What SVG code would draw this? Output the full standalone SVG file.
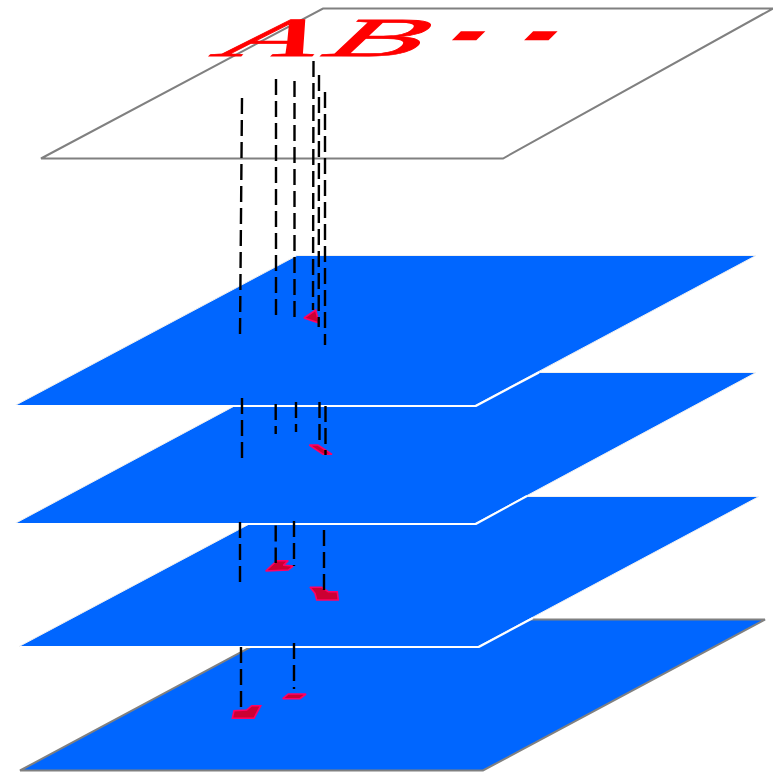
<svg xmlns="http://www.w3.org/2000/svg" width="773" height="774" viewBox="0 0 773 774">
<style>
.top{fill:#fff;stroke:#808080;stroke-width:2}
.mid{fill:#0066ff;stroke:#f0f0f0;stroke-width:1}
.base{fill:#0066ff;stroke:#808080;stroke-width:2}
.edge{fill:none;stroke:#fff;stroke-width:2}
.mark{fill:#cc0033;stroke:#ff0066;stroke-width:1.600;stroke-linejoin:miter;stroke-miterlimit:2}
.link{fill:none;stroke:#000;stroke-width:2.400;stroke-dasharray:16 6}
.glyph{font-family:"Liberation Serif","Times New Roman",serif;font-size:100px;fill:#ff0000;stroke:#ff0000;stroke-width:1.400}
.dash{font-family:"Liberation Serif","Times New Roman",serif;font-size:40px;fill:#ff0000;stroke:#ff0000;stroke-width:4}
</style>
<rect width="773" height="774" fill="#fff"/>
<g id="plane-1"><polygon class="top" points="41,158.500 323,8.500 773,8.500 503,158.500"/>
<g transform="matrix(1.45 0 -0.58 0.55 208 56)"><text class="glyph" x="0" y="0">A</text><text class="glyph" x="75" y="0">B</text></g>
<text class="dash" transform="matrix(1.7 0 -1.3 1.3 445 48.300)" x="0" y="0">-</text>
<text class="dash" transform="matrix(1.7 0 -1.3 1.3 517.300 48.300)" x="0" y="0">-</text></g>
<g id="plane-5"><polygon class="base" points="20,770.500 302,619.500 765,619.500 483,770.500"/>
<polygon class="mark" points="232.300,718.300 234,710.700 246.700,710 251.700,705.700 260.700,705.700 254,718.300"/>
<polygon class="mark" points="282.700,698.700 288.300,694 306,694 300,698.700"/></g>
<g id="plane-4"><polygon class="mid" points="19,646.500 301,496.500 759,496.500 478,646.500"/><polyline class="edge" points="20,647 479,647 533,618"/>
<polygon class="mark" points="265.700,571 276.700,560.700 288.300,560.700 283.300,565.300 293.300,566 288.300,570"/>
<polygon class="mark" points="310,587.300 321.700,587.300 328.300,591.700 337.300,591.700 338.300,600 316.700,600 315,593.300"/></g>
<g id="plane-3"><polygon class="mid" points="15,523.500 297,372.500 756,372.500 475,523.500"/><polyline class="edge" points="15,524 476,524 527,496"/>
<polygon class="mark" points="309.300,445 318,445 332,454.300 323,454.300"/></g>
<g id="plane-2"><polygon class="mid" points="15,405.500 297,255.500 756,255.500 475,405.500"/><polyline class="edge" points="15,406 476,406 539,372.500"/>
<polygon class="mark" points="304,318 315.700,310 319,323"/></g>
<g id="connectors">
<path class="link" d="M242 98L240 334"/>
<path class="link" d="M276 79L276 315"/>
<path class="link" d="M294.500 81L294.500 317"/>
<path class="link" d="M313.500 61L313 310"/>
<path class="link" d="M319 75L318.700 327"/>
<path class="link" d="M325 92L325 345"/>
<path class="link" d="M242 398L242 459"/>
<path class="link" d="M275.700 404L275.700 434"/>
<path class="link" d="M296 402L296 432"/>
<path class="link" d="M319.500 402L319.500 441"/>
<path class="link" d="M325.500 406L325.500 455"/>
<path class="link" d="M240 522L240 582"/>
<path class="link" d="M275.700 525.500L275.700 563"/>
<path class="link" d="M294 521L294 566"/>
<path class="link" d="M324 530L324 590"/>
<path class="link" d="M241 647L241 707"/>
<path class="link" d="M294 643L294 689"/>
</g>
</svg>
